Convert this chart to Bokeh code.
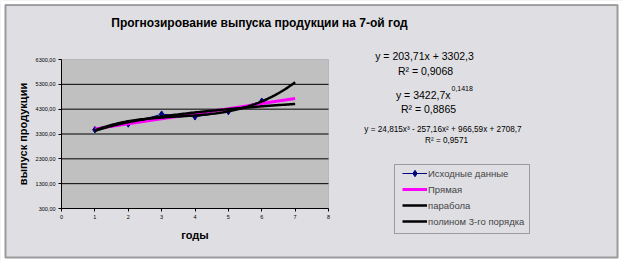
import numpy as np
from bokeh.plotting import figure
from bokeh.models import (Range1d, FixedTicker, Label, Legend, LegendItem, BoxAnnotation)
from bokeh.embed import file_html
from bokeh.resources import INLINE

# ---------------- data ----------------
years = [1, 2, 3, 4, 5, 6]
output = [3472, 3705, 4099, 3992, 4203, 4621]

# trendline coefficients shown on the chart
lin_coef = [203.71, 3302.3]                   # y = a*x + b
pow_coef = [3422.7, 0.1418]                   # y = a*x^b
cub_coef = [24.815, -257.16, 966.59, 2708.7]  # y = a x^3 + b x^2 + c x + d
trend_start, trend_end = 1, 7

y_ticks = [300, 1300, 2300, 3300, 4300, 5300, 6300]
y_tick_labels = ["300,00", "1300,00", "2300,00", "3300,00", "4300,00", "5300,00", "6300,00"]
x_ticks = [0, 1, 2, 3, 4, 5, 6, 7, 8]
x_tick_labels = ["0", "1", "2", "3", "4", "5", "6", "7", "8"]

title_text = "Прогнозирование выпуска продукции на 7-ой год"
x_label = "годы"
y_label = "выпуск продукции"
series_names = ["Исходные данные", "Прямая", "парабола", "полином 3-го порядка"]
eq_lin = "y = 203,71x + 3302,3"
r2_lin = "R² = 0,9068"
eq_pow_base = "y = 3422,7x"
eq_pow_exp = "0,1418"
r2_pow = "R² = 0,8865"
eq_cub = "y = 24,815x³ - 257,16x² + 966,59x + 2708,7"
r2_cub = "R² = 0,9571"

FONT = "Liberation Sans"
BG = "#dfdfe3"
PLOT_BG = "#c0c0c0"

# layout geometry (canvas px): plot area inside the chart
W, H = 623, 261
PL, PR, PT, PB = 61, 328, 59, 208
X0, X1 = x_ticks[0], x_ticks[-1]
Y0, Y1 = y_ticks[0], y_ticks[-1]
kx = (X1 - X0) / (PR - PL)
ky = (Y1 - Y0) / (PB - PT)
x_range = Range1d(X0 - PL * kx, X1 + (W - PR) * kx)
y_range = Range1d(Y0 - (H - PB) * ky, Y1 + PT * ky)

p = figure(width=W, height=H, output_backend="svg", toolbar_location=None,
           x_range=x_range, y_range=y_range, min_border=0)
p.border_fill_color = BG
p.background_fill_color = BG
p.outline_line_color = None
p.xgrid.visible = False
p.ygrid.visible = False

# plot area
p.add_layout(BoxAnnotation(left=X0, right=X1, bottom=Y0, top=Y1, level="image",
                           fill_color=PLOT_BG, fill_alpha=1,
                           line_color="#808080", line_width=1))
# horizontal gridlines
gy = y_ticks[1:-1]
p.segment(x0=[X0] * len(gy), x1=[X1] * len(gy), y0=gy, y1=gy,
          line_color="black", line_width=1)

# axes at the plot-area edges
for ax in (p.xaxis[0], p.yaxis[0]):
    ax.axis_line_color = "black"
    ax.major_tick_line_color = "black"
    ax.major_tick_out = 3
    ax.major_tick_in = 0
    ax.minor_tick_line_color = None
    ax.major_label_text_font = FONT
    ax.major_label_text_font_size = "5.5px"
    ax.major_label_standoff = 3
    ax.axis_label_text_font = FONT
    ax.axis_label_text_font_size = "11px"
    ax.axis_label_text_font_style = "bold"
    ax.axis_label_text_color = "black"
    ax.major_label_text_color = "black"

p.yaxis.fixed_location = X0
p.xaxis.fixed_location = Y0
p.yaxis.bounds = (Y0, Y1)
p.xaxis.bounds = (X0, X1)
p.yaxis.ticker = FixedTicker(ticks=y_ticks)
p.yaxis.major_label_overrides = {t: l for t, l in zip(y_ticks, y_tick_labels)}
p.xaxis.ticker = FixedTicker(ticks=x_ticks)
p.xaxis.major_label_overrides = {t: l for t, l in zip(x_ticks, x_tick_labels)}
p.xaxis.axis_label = x_label
p.yaxis.axis_label = y_label
p.xaxis.axis_label_standoff = 7
p.yaxis.axis_label_standoff = 4

# series and trend lines from displayed coefficients
xs = np.linspace(trend_start, trend_end, 121)
y_lin = lin_coef[0] * xs + lin_coef[1]
y_pow = pow_coef[0] * xs ** pow_coef[1]
y_cub = cub_coef[0] * xs ** 3 + cub_coef[1] * xs ** 2 + cub_coef[2] * xs + cub_coef[3]

r_data_line = p.line(years, output, line_color="#000080", line_width=1)
r_data_pts = p.scatter(years, output, marker="diamond", size=6.5,
                       fill_color="#000080", line_color="#000080")
r_lin = p.line(xs, y_lin, line_color="#ff00ff", line_width=3)
r_pow = p.line(xs, y_pow, line_color="black", line_width=2.5)
r_cub = p.line(xs, y_cub, line_color="black", line_width=2.5)


def sy(cy):
    return H - cy


def box(l, r, t, b, **kw):
    p.add_layout(BoxAnnotation(left=l, right=r, top=sy(t), bottom=sy(b),
                               left_units="screen", right_units="screen",
                               top_units="screen", bottom_units="screen", **kw))


# outer white margin and chart border
for l, r, t, b in [(0, 4, 0, H), (0, W, 0, 4), (618, W, 0, H), (0, W, 258, H)]:
    box(l, r, t, b, fill_color="white", fill_alpha=1, line_color=None, level="overlay")
box(5, 617, 4.5, 257, fill_alpha=0, line_color="black", line_width=2, level="overlay")

# legend frame
box(394, 529, 164, 233, fill_alpha=0, line_color="black", line_width=1)


def lab(text, cx, cy, size, align="center", bold=False):
    p.add_layout(Label(x=cx, y=sy(cy), x_units="screen", y_units="screen",
                       text=text, text_font=FONT, text_font_size=size,
                       text_align=align, text_baseline="middle",
                       text_font_style="bold" if bold else "normal",
                       text_color="black"))


lab(title_text, 259, 22, "12px", bold=True)
lab(eq_lin, 424, 55, "10.5px")
lab(r2_lin, 425, 70, "10.5px")
lab(eq_pow_base, 450, 94, "10.5px", align="right")
lab(eq_pow_exp, 451, 88, "7px", align="left")
lab(r2_pow, 428, 108, "10.5px")
lab(eq_cub, 442.5, 129, "8.2px")
lab(r2_cub, 446, 140, "8.2px")

legend = Legend(items=[
    LegendItem(label=series_names[0], renderers=[r_data_line, r_data_pts]),
    LegendItem(label=series_names[1], renderers=[r_lin]),
    LegendItem(label=series_names[2], renderers=[r_pow]),
    LegendItem(label=series_names[3], renderers=[r_cub]),
])
legend.location = (402, sy(229))
legend.padding = 0
legend.margin = 0
legend.spacing = 0
legend.glyph_width = 25
legend.glyph_height = 16
legend.label_height = 16
legend.label_standoff = 1
legend.label_text_font = FONT
legend.label_text_font_size = "9.5px"
legend.border_line_alpha = 0
legend.background_fill_alpha = 0
p.add_layout(legend, "center")

open("out.html", "w").write(file_html(p, INLINE))
